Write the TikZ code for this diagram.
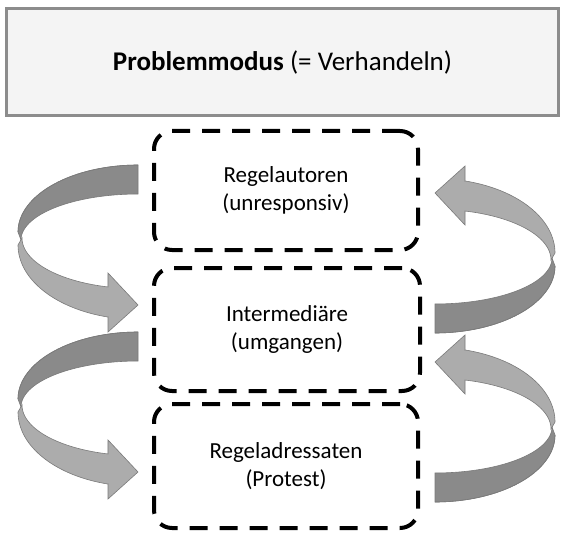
\documentclass[tikz,border=0pt]{standalone}
\usepackage{fontspec}
\setmainfont{Carlito}
\definecolor{boxline}{HTML}{8C8C8C}
\definecolor{boxfill}{HTML}{F4F4F4}
\definecolor{backgray}{HTML}{8A8A8A}
\definecolor{frontgray}{HTML}{ACACAC}
\definecolor{edgegray}{HTML}{7A7A7A}
\newcommand\myCurvedArrow{%
  \fill[backpart] plot[domain=270:180, samples=40, variable=\t] ({138+120*cos(\t)}, {232+67*sin(\t)})
    -- plot[domain=180:270, samples=40, variable=\t] ({138+117*cos(\t)}, {240+46*sin(\t)}) -- cycle;
  \filldraw[frontpart] plot[domain=180:105, samples=40, variable=\t] ({138+116*cos(\t)}, {238+50.7*sin(\t)})
    -- (108,273) -- (138,305) -- (108,332) -- (108,317)
    -- plot[domain=104.5:180, samples=40, variable=\t] ({138+120*cos(\t)}, {245+74.4*sin(\t)}) -- cycle;
  \draw[backpart, fill=none] plot[domain=270:180, samples=40, variable=\t] ({138+120*cos(\t)}, {232+67*sin(\t)});
}
\begin{document}
\begin{tikzpicture}[x=1pt, y=-1pt,
  topbox/.style={draw=boxline, fill=boxfill, line width=3pt, minimum width=552pt,
    minimum height=106.5pt, inner sep=0pt, font=\fontsize{27}{32}\selectfont},
  dbox/.style={draw=black, line width=4pt, dash pattern=on 18pt off 12pt,
    rounded corners=18pt, align=center, inner sep=0pt,
    font=\fontsize{23}{27.6}\selectfont},
  backpart/.style={fill=backgray, draw=edgegray, line width=0.6pt},
  frontpart/.style={fill=frontgray, draw=edgegray, line width=0.6pt}]
\useasboundingbox (0,0) rectangle (561,534);
\fill[white] (0,0) rectangle (561,534);

\node[topbox] (title) at (282.5,62.25) {\textbf{Problemmodus} (= Verhandeln)};

\node[dbox, minimum width=264pt, minimum height=119pt] (autoren) at (286,190.5)
  {Regelautoren\\(unresponsiv)};
\node[dbox, minimum width=266pt, minimum height=123pt] (inter) at (287,329.5)
  {Intermediäre\\(umgangen)};
\node[dbox, minimum width=264pt, minimum height=124pt] (adress) at (286,466)
  {Regeladressaten\\(Protest)};

% left curved arrows
\begin{scope}
  \myCurvedArrow
\end{scope}
\begin{scope}[shift={(0,167)}]
  \myCurvedArrow
\end{scope}
% right curved arrows (rotated 180 degrees)
\begin{scope}[shift={(573,498)}, xscale=-1, yscale=-1]
  \myCurvedArrow
\end{scope}
\begin{scope}[shift={(573,667)}, xscale=-1, yscale=-1]
  \myCurvedArrow
\end{scope}
\end{tikzpicture}
\end{document}
